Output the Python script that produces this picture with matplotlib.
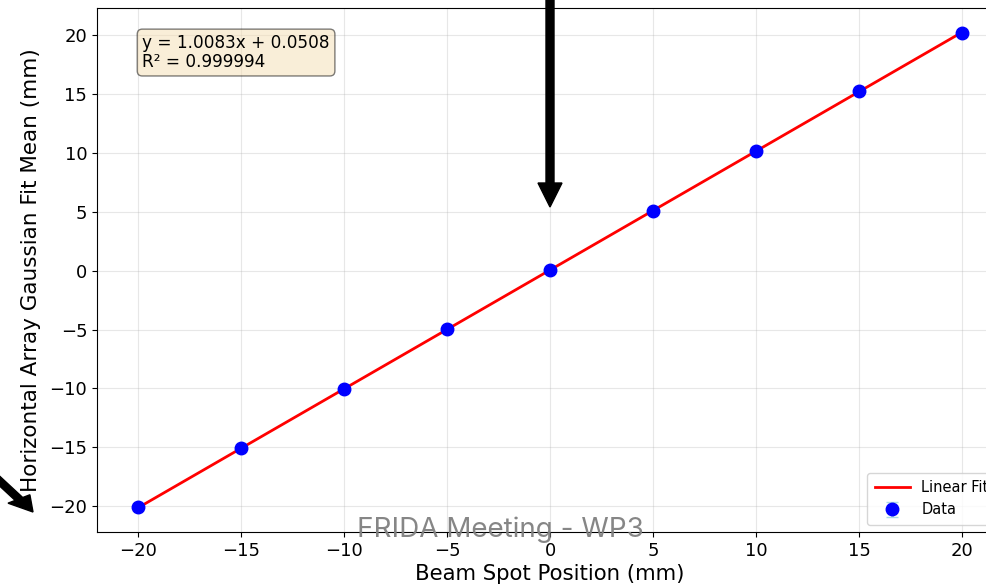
import numpy as np
import matplotlib.pyplot as plt
from matplotlib.patches import FancyArrow

# Beam spot scan: set position vs. fitted Gaussian mean on the horizontal array
beam_pos = np.array([-20, -15, -10, -5, 0, 5, 10, 15, 20])
fit_mean = np.array([-20.10, -15.08, -10.02, -4.96, 0.02, 5.04, 10.12, 15.20, 20.20])
fit_err = np.array([0.06, 0.06, 0.05, 0.05, 0.05, 0.05, 0.05, 0.06, 0.06])

slope = 1.0083
intercept = 0.0508
r2 = 0.999994

fig = plt.figure(figsize=(9.87, 5.88), dpi=100)
ax = fig.add_axes([0.0983, 0.0952, 0.918, 0.8912])

xfit = np.linspace(beam_pos.min(), beam_pos.max(), 200)
ax.plot(xfit, slope * xfit + intercept, color="red", lw=2, label="Linear Fit", zorder=2)
ax.errorbar(beam_pos, fit_mean, yerr=fit_err, fmt="o", color="blue", ms=9,
            ecolor="lightblue", elinewidth=2, capsize=4, label="Data", zorder=3)

ax.set_xlabel("Beam Spot Position (mm)", fontsize=15.3, labelpad=3)
ax.set_ylabel("Horizontal Array Gaussian Fit Mean (mm)", fontsize=15.5, labelpad=6)
ax.tick_params(labelsize=13)
ax.set_xticks(np.arange(-20, 21, 5))
ax.set_yticks(np.arange(-20, 21, 5))
ax.grid(True, alpha=0.3)

ax.text(0.05, 0.95, f"y = {slope:.4f}x + {intercept:.4f}\nR² = {r2:.6f}",
        transform=ax.transAxes, fontsize=12.2, va="top", linespacing=1.05,
        bbox=dict(boxstyle="round", facecolor="wheat", alpha=0.5))
ax.legend(loc="lower right", fontsize=10.5, handlelength=2.4, borderpad=0.5)

# slide overlays
fig.text(0.507, 1 - 530 / 588, "FRIDA Meeting - WP3", fontsize=20, color="gray",
         alpha=0.95, family="Inter", ha="center", va="center")
fig.patches.append(FancyArrow(
    550 / 987, 1.0, 0, -207 / 588, width=8 / 987, head_width=24 / 987,
    head_length=24 / 588, length_includes_head=True, color="black",
    transform=fig.transFigure, figure=fig))
fig.patches.append(FancyArrow(
    -8 / 987, 1 - 474 / 588, 41 / 987, -38 / 588, width=9 / 987,
    head_width=26 / 987, head_length=26 / 987, length_includes_head=True,
    color="black", transform=fig.transFigure, figure=fig))

fig.savefig("out.png", dpi=100)
